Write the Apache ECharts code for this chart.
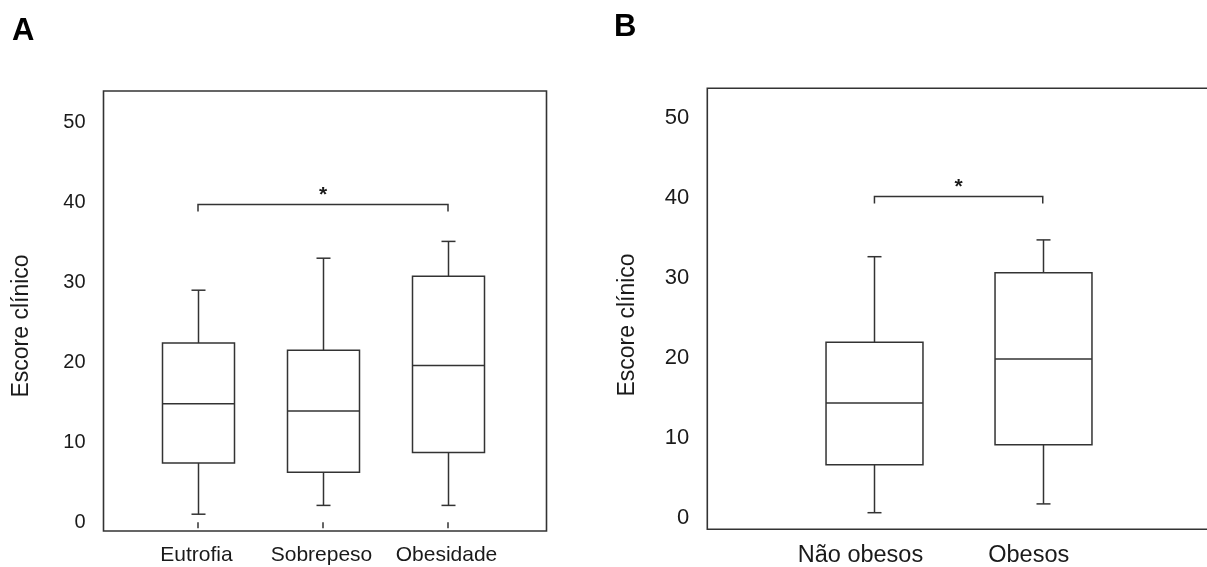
<!DOCTYPE html>
<html><head><meta charset="utf-8">
<script src="https://cdn.jsdelivr.net/npm/echarts@6/dist/echarts.min.js"></script>
<style>html,body{margin:0;padding:0;background:#fff}#c{width:1207px;height:567px}</style>
</head><body><div id="c"></div>
<script>
// ---- data ----
const catsA = ['Eutrofia', 'Sobrepeso', 'Obesidade'];
const lowA  = [1.0, 2.1, 2.1];
const q1A   = [7.4, 6.25, 8.7];
const medA  = [14.8, 13.9, 19.6];
const q3A   = [22.4, 21.5, 30.75];
const highA = [29.0, 33.0, 35.1];
const bracketA = [0, 2, 39.8];   // from category, to category, level

const catsB = ['Não obesos', 'Obesos'];
const lowB  = [0.7, 1.8];
const q1B   = [6.7, 9.2];
const medB  = [14.4, 19.9];
const q3B   = [22.0, 30.7];
const highB = [32.7, 34.8];
const bracketB = [0, 1, 40.3];

const yTicks = [0, 10, 20, 30, 40, 50];
const yTitle = 'Escore clínico';
const panelLabels = ['A', 'B'];
const starText = '*';

// ---- styles ----
const FONT = "'Liberation Sans', Arial, sans-serif";
const INK = '#333';
const TXT = '#1a1a1a';
const BOX_FRAC = 0.576;
const CAP = 7;

function boxItem(params, api) {
  const i = api.value(0);
  const band = api.size([1, 0])[0];
  const half = band * BOX_FRAC / 2;
  const pLow = api.coord([i, api.value(1)]);
  const pQ1 = api.coord([i, api.value(2)]);
  const pMed = api.coord([i, api.value(3)]);
  const pQ3 = api.coord([i, api.value(4)]);
  const pHigh = api.coord([i, api.value(5)]);
  const x = Math.round(pQ1[0]) + 0.5;
  const st = { stroke: INK, lineWidth: 1.5, fill: null };
  return { type: 'group', children: [
    { type: 'line', shape: { x1: x, y1: pQ3[1], x2: x, y2: pHigh[1] }, style: st },
    { type: 'line', shape: { x1: x, y1: pQ1[1], x2: x, y2: pLow[1] }, style: st },
    { type: 'line', shape: { x1: x - CAP, y1: pHigh[1], x2: x + CAP, y2: pHigh[1] }, style: st },
    { type: 'line', shape: { x1: x - CAP, y1: pLow[1], x2: x + CAP, y2: pLow[1] }, style: st },
    { type: 'rect', shape: { x: x - half, y: pQ3[1], width: 2 * half, height: pQ1[1] - pQ3[1] }, style: { stroke: INK, lineWidth: 1.5, fill: '#fff' } },
    { type: 'line', shape: { x1: x - half, y1: pMed[1], x2: x + half, y2: pMed[1] }, style: st }
  ]};
}

function bracketItem(params, api) {
  const p1 = api.coord([api.value(0), api.value(2)]);
  const p2 = api.coord([api.value(1), api.value(2)]);
  const drop = 7;
  const y = Math.round(p1[1]) + 0.5;
  return { type: 'group', children: [
    { type: 'polyline', shape: { points: [[p1[0], y + drop], [p1[0], y], [p2[0], y], [p2[0], y + drop]] },
      style: { stroke: INK, lineWidth: 1.5, fill: null } },
    { type: 'text', style: { text: starText, x: (p1[0] + p2[0]) / 2, y: y - 9.5, align: 'center', verticalAlign: 'middle',
      fontSize: 21, fontWeight: 'bold', fontFamily: FONT, fill: TXT } }
  ]};
}

function boxData(low, q1, med, q3, high) {
  return low.map((v, i) => [i, low[i], q1[i], med[i], q3[i], high[i]]);
}

const yLabelFmt = v => (yTicks.some(t => Math.abs(t - v) < 1e-6) ? String(Math.round(v)) : '');

const gridBase = { containLabel: false, outerBoundsMode: 'none' };

const option = {
  animation: false,
  backgroundColor: '#fff',
  title: [
    { text: panelLabels[0], left: 12, top: 16, padding: 0, textStyle: { fontSize: 31, fontWeight: 'bold', color: '#000', fontFamily: FONT } },
    { text: panelLabels[1], left: 614, top: 12, padding: 0, textStyle: { fontSize: 31, fontWeight: 'bold', color: '#000', fontFamily: FONT } }
  ],
  grid: [
    Object.assign({ left: 103.5, top: 91, width: 443, height: 440, show: true, borderColor: INK, borderWidth: 1.6, backgroundColor: 'transparent' }, gridBase),
    Object.assign({ left: 135.5, top: 91, width: 375, height: 440 }, gridBase),
    Object.assign({ left: 707.3, top: 88.3, width: 620, height: 441, show: true, borderColor: INK, borderWidth: 1.6, backgroundColor: 'transparent' }, gridBase),
    Object.assign({ left: 790.3, top: 88.3, width: 336.6, height: 441 }, gridBase)
  ],
  xAxis: [
    { gridIndex: 0, type: 'value', show: false, min: 0, max: 1 },
    { gridIndex: 1, type: 'category', data: catsA, boundaryGap: true,
      axisLine: { show: false }, splitLine: { show: false },
      axisTick: { show: true, alignWithLabel: true, length: 6, lineStyle: { color: INK, width: 1.5 } },
      axisLabel: { margin: 14, fontSize: 21, color: TXT, fontFamily: FONT, interval: 0, padding: [0, 3, 0, 0] } },
    { gridIndex: 2, type: 'value', show: false, min: 0, max: 1 },
    { gridIndex: 3, type: 'category', data: catsB, boundaryGap: true,
      axisLine: { show: false }, splitLine: { show: false }, axisTick: { show: false },
      axisLabel: { margin: 14, fontSize: 23.5, color: TXT, fontFamily: FONT, interval: 0, padding: [0, 28, 0, 0] } }
  ],
  yAxis: [
    { gridIndex: 0, type: 'value', show: false, min: 0, max: 1 },
    { gridIndex: 1, type: 'value', min: -1.1, max: 53.9, splitNumber: 5,
      axisLine: { show: false }, axisTick: { show: false }, splitLine: { show: false },
      axisLabel: { margin: 50, fontSize: 20, color: TXT, fontFamily: FONT, formatter: yLabelFmt } },
    { gridIndex: 2, type: 'value', show: false, min: 0, max: 1 },
    { gridIndex: 3, type: 'value', min: -1.375, max: 53.75, splitNumber: 5,
      axisLine: { show: false }, axisTick: { show: false }, splitLine: { show: false },
      axisLabel: { margin: 101, fontSize: 22, color: TXT, fontFamily: FONT, formatter: yLabelFmt } }
  ],
  graphic: [
    { type: 'text', x: 22, y: 326, rotation: Math.PI / 2,
      style: { text: yTitle, align: 'center', verticalAlign: 'middle', fontSize: 23, fontFamily: FONT, fill: TXT } },
    { type: 'text', x: 628, y: 325, rotation: Math.PI / 2,
      style: { text: yTitle, align: 'center', verticalAlign: 'middle', fontSize: 23, fontFamily: FONT, fill: TXT } }
  ],
  series: [
    { type: 'custom', xAxisIndex: 1, yAxisIndex: 1, renderItem: boxItem, encode: { x: 0, y: [1, 2, 3, 4, 5] },
      data: boxData(lowA, q1A, medA, q3A, highA), silent: true },
    { type: 'custom', xAxisIndex: 1, yAxisIndex: 1, renderItem: bracketItem, encode: { x: [0, 1], y: 2 },
      data: [bracketA], silent: true },
    { type: 'custom', xAxisIndex: 3, yAxisIndex: 3, renderItem: boxItem, encode: { x: 0, y: [1, 2, 3, 4, 5] },
      data: boxData(lowB, q1B, medB, q3B, highB), silent: true },
    { type: 'custom', xAxisIndex: 3, yAxisIndex: 3, renderItem: bracketItem, encode: { x: [0, 1], y: 2 },
      data: [bracketB], silent: true }
  ]
};

const chart = echarts.init(document.getElementById('c'), null, { renderer: 'canvas' });
chart.setOption(option);
</script>
</body></html>
